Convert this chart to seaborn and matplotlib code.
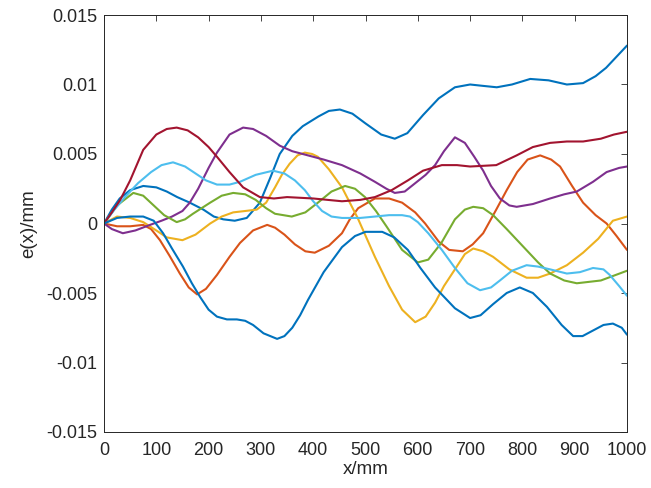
import numpy as np
import pandas as pd
import matplotlib
matplotlib.use('Agg')
import matplotlib.pyplot as plt
import seaborn as sns

# position along the guide (mm) and error e(x) (mm)
x_a = [0, 15, 30, 50, 75, 100, 120, 140, 164, 190, 210, 228, 250, 273, 298, 318, 336, 360, 380, 410, 430, 451, 475, 500, 530, 556, 580, 610, 640, 671, 700, 725, 751, 780, 815, 850, 885, 916, 940, 960, 980, 1000]
e_a = [0, 0.0010, 0.0018, 0.0024, 0.0027, 0.0026, 0.0023, 0.0019, 0.0015, 0.0010, 0.0005, 0.0003, 0.0002, 0.0004, 0.0015, 0.0033, 0.0050, 0.0063, 0.0070, 0.0077, 0.0081, 0.0082, 0.0079, 0.0072, 0.0064, 0.0061, 0.0065, 0.0078, 0.0090, 0.0098, 0.0100, 0.0099, 0.0098, 0.0100, 0.0104, 0.0103, 0.0100, 0.0101, 0.0106, 0.0112, 0.0120, 0.0128]

x_b = [0, 15, 31, 50, 75, 100, 120, 139, 160, 180, 200, 216, 240, 266, 298, 325, 350, 400, 455, 490, 518, 550, 581, 610, 646, 675, 700, 750, 789, 820, 853, 885, 916, 950, 975, 1000]
e_b = [0, 0.0008, 0.0017, 0.0031, 0.0053, 0.0064, 0.0068, 0.0069, 0.0067, 0.0062, 0.0055, 0.0048, 0.0037, 0.0026, 0.0019, 0.0018, 0.0019, 0.0018, 0.0016, 0.0017, 0.0019, 0.0024, 0.0031, 0.0038, 0.0042, 0.0042, 0.0041, 0.0042, 0.0049, 0.0055, 0.0058, 0.0059, 0.0059, 0.0061, 0.0064, 0.0066]

x_c = [0, 15, 36, 60, 88, 110, 130, 150, 164, 180, 200, 216, 240, 266, 285, 310, 336, 360, 390, 420, 455, 490, 518, 540, 556, 575, 595, 615, 633, 650, 671, 690, 708, 725, 740, 757, 775, 789, 820, 853, 880, 904, 935, 961, 985, 1000]
e_c = [0, -0.0004, -0.0007, -0.0005, -0.0001, 0.0002, 0.0005, 0.0009, 0.0015, 0.0025, 0.0040, 0.0051, 0.0064, 0.0069, 0.0068, 0.0063, 0.0056, 0.0052, 0.0049, 0.0046, 0.0042, 0.0036, 0.0030, 0.0025, 0.0022, 0.0023, 0.0029, 0.0035, 0.0042, 0.0052, 0.0062, 0.0058, 0.0048, 0.0038, 0.0027, 0.0018, 0.0013, 0.0012, 0.0014, 0.0018, 0.0021, 0.0023, 0.0030, 0.0037, 0.0040, 0.0041]

x_d = [0, 20, 40, 65, 90, 110, 132, 155, 175, 195, 216, 240, 260, 290, 323, 345, 365, 384, 400, 417, 435, 455, 490, 518, 545, 570, 585, 600, 620, 646, 671, 695, 719, 740, 757, 780, 808, 830, 853, 885, 910, 935, 955, 967, 985, 1000]
e_d = [0, 0.0010, 0.0019, 0.0029, 0.0037, 0.0042, 0.0044, 0.0041, 0.0036, 0.0031, 0.0028, 0.0028, 0.0030, 0.0035, 0.0038, 0.0036, 0.0031, 0.0024, 0.0016, 0.0009, 0.0005, 0.0004, 0.0004, 0.0005, 0.0006, 0.0006, 0.0005, 0.0001, -0.0007, -0.0019, -0.0032, -0.0043, -0.0048, -0.0046, -0.0041, -0.0034, -0.0030, -0.0031, -0.0033, -0.0036, -0.0035, -0.0032, -0.0033, -0.0037, -0.0045, -0.0052]

x_e = [0, 25, 56, 75, 95, 115, 139, 155, 170, 203, 225, 247, 270, 290, 310, 327, 359, 385, 409, 435, 461, 480, 499, 520, 540, 570, 600, 620, 645, 671, 690, 706, 725, 744, 770, 800, 830, 853, 880, 904, 950, 1000]
e_e = [0, 0.0013, 0.0022, 0.0020, 0.0013, 0.0006, 0.0001, 0.0003, 0.0007, 0.0015, 0.0020, 0.0022, 0.0021, 0.0017, 0.0011, 0.0007, 0.0005, 0.0008, 0.0015, 0.0023, 0.0027, 0.0025, 0.0019, 0.0009, -0.0002, -0.0019, -0.0028, -0.0026, -0.0014, 0.0003, 0.0010, 0.0012, 0.0011, 0.0006, -0.0004, -0.0016, -0.0028, -0.0036, -0.0041, -0.0043, -0.0041, -0.0034]

x_f = [0, 25, 50, 75, 90, 107, 125, 145, 162, 178, 195, 216, 240, 260, 285, 312, 327, 345, 365, 385, 403, 430, 455, 470, 486, 518, 545, 570, 595, 614, 640, 660, 686, 705, 725, 750, 770, 790, 810, 834, 855, 872, 895, 916, 940, 961, 980, 1000]
e_f = [0, -0.0002, -0.0002, -0.0001, -0.0004, -0.0012, -0.0023, -0.0036, -0.0046, -0.0051, -0.0047, -0.0037, -0.0024, -0.0014, -0.0005, -0.0001, -0.0003, -0.0008, -0.0015, -0.0020, -0.0021, -0.0016, -0.0007, 0.0003, 0.0011, 0.0018, 0.0018, 0.0015, 0.0008, 0.0000, -0.0013, -0.0019, -0.0020, -0.0015, -0.0007, 0.0010, 0.0024, 0.0037, 0.0046, 0.0049, 0.0046, 0.0041, 0.0027, 0.0015, 0.0006, 0.0000, -0.0009, -0.0019]

x_g = [0, 25, 50, 75, 100, 120, 150, 175, 203, 225, 247, 270, 292, 310, 327, 340, 355, 370, 384, 398, 409, 430, 455, 485, 518, 545, 570, 595, 615, 633, 650, 671, 690, 706, 725, 744, 775, 808, 830, 853, 885, 916, 945, 973, 1000]
e_g = [0, 0.0005, 0.0004, 0.0001, -0.0005, -0.0010, -0.0012, -0.0008, 0.0000, 0.0005, 0.0008, 0.0009, 0.0010, 0.0015, 0.0026, 0.0035, 0.0043, 0.0049, 0.0051, 0.0050, 0.0048, 0.0039, 0.0026, 0.0004, -0.0024, -0.0045, -0.0062, -0.0071, -0.0067, -0.0057, -0.0045, -0.0033, -0.0022, -0.0018, -0.0020, -0.0024, -0.0033, -0.0039, -0.0039, -0.0036, -0.0030, -0.0021, -0.0011, 0.0002, 0.0005]

x_h = [0, 25, 50, 75, 95, 113, 130, 151, 168, 184, 200, 216, 235, 254, 270, 285, 305, 331, 345, 360, 375, 390, 420, 455, 480, 500, 532, 555, 581, 605, 633, 671, 700, 720, 744, 770, 795, 820, 847, 875, 897, 915, 935, 955, 973, 990, 1000]
e_h = [0, 0.0004, 0.0005, 0.0005, 0.0002, -0.0007, -0.0018, -0.0031, -0.0043, -0.0053, -0.0062, -0.0067, -0.0069, -0.0069, -0.0070, -0.0073, -0.0079, -0.0083, -0.0081, -0.0075, -0.0066, -0.0055, -0.0035, -0.0017, -0.0009, -0.0006, -0.0006, -0.0010, -0.0019, -0.0032, -0.0046, -0.0061, -0.0068, -0.0066, -0.0058, -0.0050, -0.0046, -0.0050, -0.0060, -0.0073, -0.0081, -0.0081, -0.0077, -0.0073, -0.0072, -0.0075, -0.0080]

series = [('a', x_a, e_a), ('f', x_f, e_f), ('g', x_g, e_g), ('c', x_c, e_c),
          ('e', x_e, e_e), ('d', x_d, e_d), ('b', x_b, e_b), ('h', x_h, e_h)]

# matlab default color order
colors = ['#0072BD', '#D95319', '#EDB120', '#7E2F8E', '#77AC30', '#4DBEEE', '#A2142F', '#0072BD']

yticks = [-0.015, -0.01, -0.005, 0, 0.005, 0.01, 0.015]
ytick_labels = ['-0.015', '-0.01', '-0.005', '0', '0.005', '0.01', '0.015']
xticks = list(range(0, 1001, 100))

rows = []
for name, xs, es in series:
    for xv, ev in zip(xs, es):
        rows.append({'curve': name, 'x': xv, 'e': ev})
df = pd.DataFrame(rows)

sns.set_style('white')
plt.rcParams['font.family'] = ['Liberation Sans', 'DejaVu Sans']

fig = plt.figure(figsize=(6.51, 4.88), dpi=100)
ax = fig.add_axes([104 / 651, 1 - 432 / 488, 523 / 651, 417 / 488])

sns.lineplot(data=df, x='x', y='e', hue='curve', palette=colors, sort=False,
             estimator=None, linewidth=1.5, legend=False, ax=ax)

ax.set_xlim(0, 1000)
ax.set_ylim(-0.015, 0.015)
ax.set_xticks(xticks)
ax.set_xticklabels([str(t) for t in xticks])
ax.set_yticks(yticks)
ax.set_yticklabels(ytick_labels)
ax.set_xlabel('x/mm', fontsize=13.5, color='#262626', labelpad=2)
ax.set_ylabel('e(x)/mm', fontsize=13.5, color='#262626', labelpad=6)
ax.tick_params(direction='in', length=4, width=0.6, top=True, right=True,
               labelsize=13, colors='#262626')
ax.tick_params(axis='x', pad=7)
ax.tick_params(axis='y', pad=5)
for sp in ax.spines.values():
    sp.set_visible(True)
    sp.set_color('#262626')
    sp.set_linewidth(0.7)

fig.savefig('out.png', dpi=100)
